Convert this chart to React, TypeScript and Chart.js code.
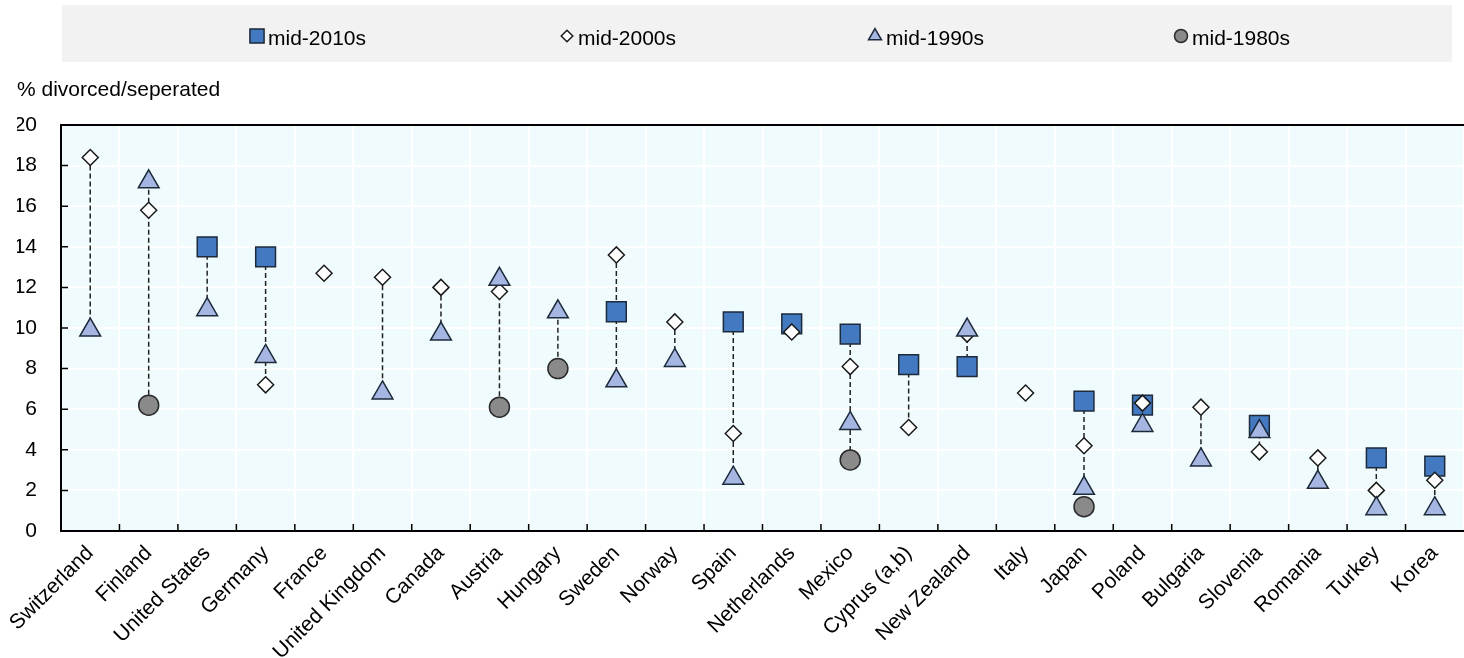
import React, { useEffect, useRef } from 'react';
import { Chart, registerables } from 'chart.js';
import { drawPoint } from 'chart.js/helpers';

Chart.register(...registerables);

const categories = [
  'Switzerland', 'Finland', 'United States', 'Germany', 'France', 'United Kingdom',
  'Canada', 'Austria', 'Hungary', 'Sweden', 'Norway', 'Spain', 'Netherlands', 'Mexico',
  'Cyprus (a,b)', 'New Zealand', 'Italy', 'Japan', 'Poland', 'Bulgaria', 'Slovenia',
  'Romania', 'Turkey', 'Korea',
];

const mid2010s = [null, null, 14.0, 13.5, null, null, null, null, null, 10.8, null, 10.3, 10.2, 9.7, 8.2, 8.1, null, 6.4, 6.2, null, 5.2, null, 3.6, 3.2];
const mid2000s = [18.4, 15.8, null, 7.2, 12.7, 12.5, 12.0, 11.8, null, 13.6, 10.3, 4.8, 9.8, 8.1, 5.1, 9.7, 6.8, 4.2, 6.3, 6.1, 3.9, 3.6, 2.0, 2.5];
const mid1990s = [9.9, 17.2, 10.9, 8.6, null, 6.8, 9.7, 12.4, 10.8, 7.4, 8.4, 2.6, null, 5.3, null, 9.9, null, 2.1, 5.2, 3.5, 4.9, 2.4, 1.1, 1.1];
const mid1980s = [null, 6.2, null, null, null, null, null, 6.1, 8.0, null, null, null, null, 3.5, null, null, null, 1.2, null, null, null, null, null, null];

const seriesLabels = ['mid-2010s', 'mid-2000s', 'mid-1990s', 'mid-1980s'];
const yTitle = '% divorced/seperated';
const yMin = 0;
const yMax = 20;
const yStep = 2;

const SANS = '"Liberation Sans", Arial, sans-serif';

const seriesStyles = [
  { pointStyle: 'rect', radius: 14, bg: '#4279c0', border: '#1d2a3a', legendR: 10, order: 4 },
  { pointStyle: 'rectRot', radius: 8, bg: '#ffffff', border: '#1a1a1a', legendR: 5.8, order: 3 },
  { pointStyle: 'triangle', radius: 12, bg: '#a6b6e2', border: '#1d2a3a', legendR: 7.5, order: 2 },
  { pointStyle: 'circle', radius: 10, bg: '#8a8a8a', border: '#2a2a2a', legendR: 6.5, order: 1 },
];

const legendMarkerX = [257, 567, 875, 1181];

const bgPlugin = {
  id: 'plotBg',
  beforeDraw(chart: any) {
    const { ctx, chartArea } = chart;
    ctx.save();
    ctx.fillStyle = '#effbfc';
    ctx.fillRect(chartArea.left, chartArea.top, chartArea.right - chartArea.left, chartArea.bottom - chartArea.top);
    ctx.restore();
  },
};

const framePlugin = {
  id: 'frameAndLinks',
  beforeDatasetsDraw(chart: any) {
    const { ctx, chartArea, scales } = chart;
    const xs = scales.x;
    const ys = scales.y;
    ctx.save();
    ctx.strokeStyle = '#000';
    ctx.lineWidth = 2;
    ctx.beginPath();
    ctx.moveTo(chartArea.left - 1, chartArea.top);
    ctx.lineTo(chartArea.right, chartArea.top);
    ctx.stroke();
    ctx.lineWidth = 1.5;
    ctx.beginPath();
    for (let i = 1; i < categories.length; i++) {
      const x = (xs.getPixelForValue(i - 1) + xs.getPixelForValue(i)) / 2;
      ctx.moveTo(x, chartArea.bottom);
      ctx.lineTo(x, chartArea.bottom - 7);
    }
    ys.ticks.forEach((t: any) => {
      const y = ys.getPixelForValue(t.value);
      ctx.moveTo(chartArea.left, y);
      ctx.lineTo(chartArea.left + 7, y);
    });
    ctx.stroke();
    ctx.strokeStyle = '#222';
    ctx.lineWidth = 1.5;
    ctx.setLineDash([5, 3]);
    const ds = chart.data.datasets;
    for (let i = 0; i < categories.length; i++) {
      const vals = ds.map((d: any) => d.data[i]).filter((v: any) => v !== null && v !== undefined);
      if (vals.length < 2) continue;
      const x = xs.getPixelForValue(i);
      ctx.beginPath();
      ctx.moveTo(x, ys.getPixelForValue(Math.max(...vals)));
      ctx.lineTo(x, ys.getPixelForValue(Math.min(...vals)));
      ctx.stroke();
    }
    ctx.restore();
  },
};

const legendPlugin = {
  id: 'boxLegend',
  afterDraw(chart: any) {
    const { ctx, chartArea } = chart;
    ctx.save();
    ctx.fillStyle = '#f2f2f2';
    ctx.fillRect(chartArea.left + 1, 5, 1452 - chartArea.left - 1, 57);
    chart.data.datasets.forEach((d: any, i: number) => {
      const st = seriesStyles[i];
      const mx = legendMarkerX[i];
      ctx.fillStyle = st.bg;
      ctx.strokeStyle = st.border;
      ctx.lineWidth = 1.5;
      ctx.setLineDash([]);
      drawPoint(ctx, { pointStyle: st.pointStyle, radius: st.legendR, borderWidth: 1.5, rotation: 0 } as any, mx, 36);
      ctx.fillStyle = '#000';
      ctx.font = `21px ${SANS}`;
      ctx.textAlign = 'left';
      ctx.textBaseline = 'alphabetic';
      ctx.fillText(d.label, mx + 11, 45);
    });
    ctx.restore();
  },
};

export default function App() {
  const canvasRef = useRef<HTMLCanvasElement | null>(null);

  useEffect(() => {
    const seriesData = [mid2010s, mid2000s, mid1990s, mid1980s];
    const chart = new Chart(canvasRef.current as HTMLCanvasElement, {
      type: 'line',
      data: {
        labels: categories,
        datasets: seriesData.map((data, i) => ({
          label: seriesLabels[i],
          data,
          showLine: false,
          order: seriesStyles[i].order,
          pointStyle: seriesStyles[i].pointStyle as any,
          pointRadius: seriesStyles[i].radius,
          pointHoverRadius: seriesStyles[i].radius,
          pointBackgroundColor: seriesStyles[i].bg,
          pointBorderColor: seriesStyles[i].border,
          pointBorderWidth: 1.5,
          backgroundColor: seriesStyles[i].bg,
          borderColor: seriesStyles[i].border,
        })),
      },
      options: {
        animation: false,
        responsive: true,
        maintainAspectRatio: false,
        layout: { autoPadding: false, padding: { top: 60, left: 17, right: 0, bottom: 0 } },
        plugins: {
          legend: { display: false },
          tooltip: { enabled: false },
          title: {
            display: true,
            text: yTitle,
            align: 'start',
            color: '#000',
            font: { family: SANS, size: 21, weight: 'normal' },
            padding: { top: 17.4, bottom: 22.4 },
          },
        },
        scales: {
          x: {
            type: 'category',
            offset: true,
            grid: { color: '#ffffff', lineWidth: 2, drawTicks: false, offset: true },
            border: { color: '#000', width: 2 },
            afterFit: (scale: any) => {
              scale.paddingLeft = 0;
              scale.paddingRight = 0;
              scale.height = 127;
              scale.getPadding = () => ({ left: 0, top: 0, right: 0, bottom: 0 });
            },
            ticks: {
              autoSkip: false,
              minRotation: 45,
              maxRotation: 45,
              padding: 10,
              color: '#000',
              font: { family: SANS, size: 21 },
            },
          },
          y: {
            min: yMin,
            max: yMax,
            grid: { color: '#ffffff', lineWidth: 2, drawTicks: false },
            border: { color: '#000', width: 2 },
            afterFit: (scale: any) => {
              scale.width = 44;
            },
            ticks: {
              stepSize: yStep,
              padding: 24,
              color: '#000',
              font: { family: SANS, size: 21 },
            },
          },
        },
      },
      plugins: [bgPlugin, framePlugin, legendPlugin],
    });
    return () => chart.destroy();
  }, []);

  return (
    <div style={{ position: 'fixed', left: 0, top: 0, width: 1464, height: 658, background: '#fff' }}>
      <canvas ref={canvasRef} />
    </div>
  );
}
